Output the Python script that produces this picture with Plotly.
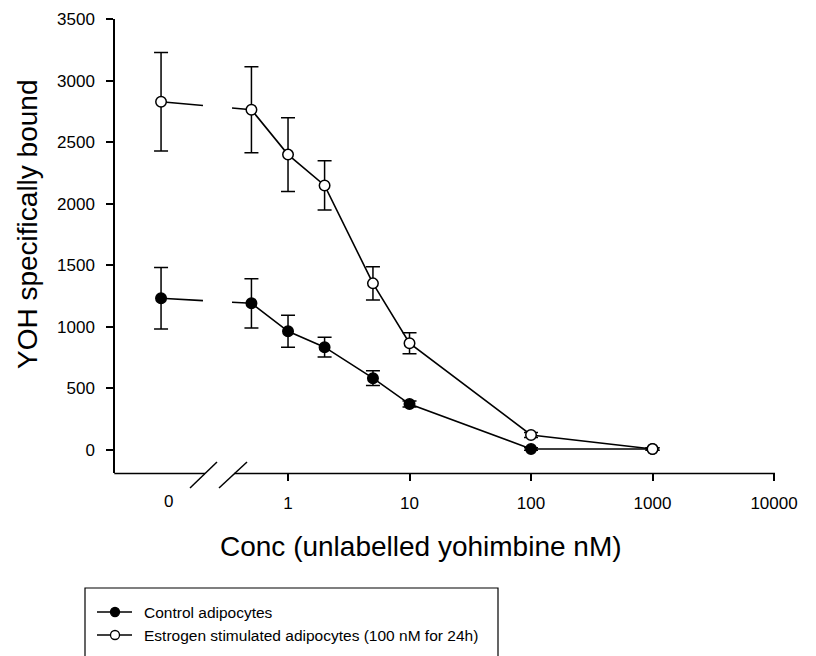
import math
import plotly.graph_objects as go

# ---------------- data ----------------
conc = [0, 0.5, 1, 2, 5, 10, 100, 1000]          # nM (0 = no unlabelled ligand)
control = [1232, 1191, 964, 835, 583, 373, 8, 8]
control_err = [250, 200, 130, 80, 60, 25, 10, 10]
estrogen = [2828, 2763, 2399, 2148, 1353, 867, 122, 8]
estrogen_err = [400, 350, 300, 200, 135, 85, 20, 10]
x_tick_vals = [1, 10, 100, 1000, 10000]
x_tick_text = ["1", "10", "100", "1000", "10000"]
y_tick_vals = [0, 500, 1000, 1500, 2000, 2500, 3000, 3500]
series_names = ["Control adipocytes",
                "Estrogen stimulated adipocytes (100 nM for 24h)"]

# ---------------- layout constants ----------------
W, H = 816, 656
ML, MR, MT, MB = 115, 41, 19, 183
PW, PH = W - ML - MR, H - MT - MB
XR = [-1.424, 4.008]          # log10 range
YR = [-187, 3500]
ZERO_LOG = -1.045             # where the "0" concentration sits on the broken axis
BREAK_LO, BREAK_HI = -0.700, -0.461   # gap in the data lines (log10 units)
FONT = "Liberation Sans, Arial, sans-serif"
LW = 1.6


def xpos(c):
    return 10 ** ZERO_LOG if c == 0 else c


def px(xp):   # pixel -> paper x
    return (xp - ML) / PW


def py(yp):   # pixel -> paper y
    return (H - MB - yp) / PH


def broken_line(ys):
    """Line through the points, interrupted across the axis break."""
    lx = [math.log10(xpos(c)) for c in conc]
    def interp(t):
        return ys[0] + (ys[1] - ys[0]) * (t - lx[0]) / (lx[1] - lx[0])
    xs = [xpos(conc[0]), 10 ** BREAK_LO, None, 10 ** BREAK_HI] + [xpos(c) for c in conc[1:]]
    yy = [ys[0], interp(BREAK_LO), None, interp(BREAK_HI)] + ys[1:]
    return xs, yy


fig = go.Figure()

for ys, errs, fill, name in [(control, control_err, "black", series_names[0]),
                             (estrogen, estrogen_err, "white", series_names[1])]:
    lx, ly = broken_line(ys)
    fig.add_trace(go.Scatter(x=lx, y=ly, mode="lines", line=dict(color="black", width=LW),
                             showlegend=False, hoverinfo="skip", connectgaps=False))
    fig.add_trace(go.Scatter(
        x=[xpos(c) for c in conc], y=ys, mode="markers", name=name, showlegend=False,
        marker=dict(symbol="circle", size=10.5, color=fill, line=dict(color="black", width=1.5)),
        error_y=dict(type="data", array=errs, visible=True, color="black", thickness=1.5, width=7),
    ))

shapes = []
# x-axis line in two pieces either side of the break
for a, b in [(114.3, 205), (234, 775)]:
    shapes.append(dict(type="line", xref="paper", yref="paper", x0=px(a), x1=px(b),
                       y0=py(473.5), y1=py(473.5), layer="above",
                       line=dict(color="black", width=1.6)))
# break marks
for x0, x1 in [(190, 217), (219, 247)]:
    shapes.append(dict(type="line", xref="paper", yref="paper", x0=px(x0), x1=px(x1),
                       y0=py(488), y1=py(462), line=dict(color="black", width=1.5)))

# legend box (bottom runs off the page)
shapes.append(dict(type="rect", xref="paper", yref="paper", x0=px(85), x1=px(498),
                   y0=py(588), y1=py(720), line=dict(color="black", width=1.2),
                   fillcolor="rgba(0,0,0,0)"))
annotations = []
for i, (name, fill) in enumerate(zip(series_names, ["black", "white"])):
    yy = 612 + i * 23
    shapes.append(dict(type="line", xref="paper", yref="paper", x0=px(97), x1=px(132),
                       y0=py(yy), y1=py(yy), line=dict(color="black", width=1.5)))
    shapes.append(dict(type="circle", xref="paper", yref="paper", xsizemode="pixel",
                       ysizemode="pixel", xanchor=px(115), yanchor=py(yy),
                       x0=-4.5, x1=4.5, y0=-4.5, y1=4.5, fillcolor=fill,
                       line=dict(color="black", width=1.3)))
    annotations.append(dict(text=name, xref="paper", yref="paper", x=px(142), y=py(yy),
                            xanchor="left", yanchor="middle", showarrow=False,
                            font=dict(family=FONT, size=15.5, color="black")))

# "0" label on the broken axis
annotations.append(dict(text="0", xref="paper", yref="paper", x=px(168), y=py(501),
                        xanchor="center", yanchor="middle", showarrow=False,
                        font=dict(family=FONT, size=17, color="black")))
# axis titles
annotations.append(dict(text="Conc (unlabelled yohimbine nM)", xref="paper", yref="paper",
                        x=px(218), y=py(546), xanchor="left", yanchor="middle",
                        showarrow=False, font=dict(family=FONT, size=28, color="black")))
annotations.append(dict(text="YOH specifically bound", xref="paper", yref="paper",
                        x=px(27), y=py(225), xanchor="center", yanchor="middle",
                        textangle=-90, showarrow=False,
                        font=dict(family=FONT, size=28, color="black")))

fig.update_layout(
    width=W, height=H,
    margin=dict(l=ML, r=MR, t=MT, b=MB, autoexpand=False),
    paper_bgcolor="white", plot_bgcolor="white",
    showlegend=False,
    font=dict(family=FONT, size=17, color="black"),
    shapes=shapes, annotations=annotations,
    xaxis=dict(type="log", range=XR, tickvals=x_tick_vals, ticktext=x_tick_text,
               ticks="outside", ticklen=7, tickwidth=1.5, tickcolor="black",
               showline=False, showgrid=False, zeroline=False,
               ticklabelstandoff=8, tickfont=dict(size=17)),
    yaxis=dict(range=YR, tickvals=y_tick_vals, ticks="outside", ticklen=7, tickwidth=1.5,
               tickcolor="black", showline=True, linecolor="black", linewidth=1.5,
               showgrid=False, zeroline=False, ticklabelstandoff=8,
               tickfont=dict(size=17)),
)

fig.write_html("out.html")
